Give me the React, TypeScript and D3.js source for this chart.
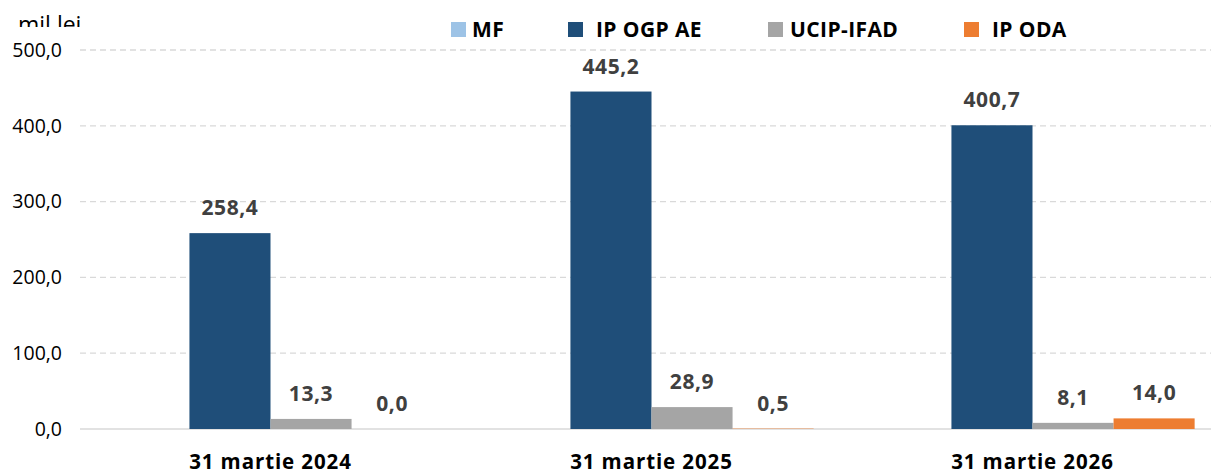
import { useEffect, useRef } from 'react'
import * as d3 from 'd3'

const categories = ['31 martie 2024', '31 martie 2025', '31 martie 2026']
const seriesNames = ['MF', 'IP OGP AE', 'UCIP-IFAD', 'IP ODA']
const seriesColors = ['#9dc3e6', '#1f4e79', '#a5a5a5', '#ed7d31']
const mfValues = [0, 0, 0]
const ogpValues = [258.4, 445.2, 400.7]
const ifadValues = [13.3, 28.9, 8.1]
const odaValues = [0.0, 0.5, 14.0]
const yTicks = [0, 100, 200, 300, 400, 500]

const FONT = "'Open Sans', 'Liberation Sans', sans-serif"

export default function App() {
  const ref = useRef<SVGSVGElement>(null)

  useEffect(() => {
    if (!ref.current) return
    const svg = d3.select(ref.current)
    svg.selectAll('*').remove()

    const width = 1211
    const height = 473
    const margin = { top: 50, right: -12, bottom: 44, left: 80 }
    const innerH = height - margin.top - margin.bottom

    const series = [
      { name: seriesNames[0], values: mfValues, label: false },
      { name: seriesNames[1], values: ogpValues, label: true },
      { name: seriesNames[2], values: ifadValues, label: true },
      { name: seriesNames[3], values: odaValues, label: true }
    ]

    const x0 = d3
      .scaleBand<string>()
      .domain(categories)
      .range([margin.left, width - margin.right])
      .paddingInner(0)
      .paddingOuter(0)

    const x1 = d3
      .scaleBand<string>()
      .domain(seriesNames)
      .range([0, x0.bandwidth()])
      .paddingOuter(0.35)

    const y = d3
      .scaleLinear()
      .domain([0, 500])
      .range([margin.top + innerH, margin.top])

    const fmt = (v: number) => v.toFixed(1).replace('.', ',')

    // gridlines
    const grid = svg.append('g')
    yTicks.forEach(t => {
      grid
        .append('line')
        .attr('x1', margin.left)
        .attr('x2', width)
        .attr('y1', y(t))
        .attr('y2', y(t))
        .attr('stroke', '#d9d9d9')
        .attr('stroke-width', 1.3)
        .attr('stroke-dasharray', t === 0 ? null : '6,4')
    })

    // y axis labels
    const yAxis = svg
      .append('g')
      .attr('transform', `translate(${margin.left - 18},0)`)
      .call(d3.axisLeft(y).tickValues(yTicks).tickSize(0).tickFormat(d => fmt(+d)))
    yAxis.select('.domain').remove()
    yAxis
      .selectAll('text')
      .attr('x', 0)
      .style('font-family', FONT)
      .style('font-size', '19.5px')
      .style('fill', '#000')

    // bars
    series.forEach(s => {
      const g = svg.append('g')
      categories.forEach((c, i) => {
        const v = s.values[i]
        const bx = (x0(c) ?? 0) + (x1(s.name) ?? 0)
        if (v > 0) {
          g.append('rect')
            .attr('x', bx)
            .attr('y', y(v))
            .attr('width', x1.bandwidth())
            .attr('height', y(0) - y(v))
            .attr('fill', seriesColors[seriesNames.indexOf(s.name)])
        }
        if (s.label) {
          g.append('text')
            .attr('x', bx + x1.bandwidth() / 2)
            .attr('y', y(v) - 18)
            .attr('text-anchor', 'middle')
            .style('font-family', FONT)
            .style('font-weight', 'bold')
            .style('font-size', '21px')
            .style('letter-spacing', '0.6px')
            .style('fill', '#404040')
            .text(fmt(v))
        }
      })
    })

    // category labels
    categories.forEach(c => {
      svg
        .append('text')
        .attr('x', (x0(c) ?? 0) + x0.bandwidth() / 2)
        .attr('y', 469)
        .attr('text-anchor', 'middle')
        .style('font-family', FONT)
        .style('font-weight', 'bold')
        .style('font-size', '20.5px')
        .style('letter-spacing', '0.9px')
        .style('fill', '#000')
        .text(c)
    })

    // unit label, clipped at the top grid
    svg
      .append('clipPath')
      .attr('id', 'unitClip')
      .append('rect')
      .attr('x', 0)
      .attr('y', 0)
      .attr('width', 200)
      .attr('height', 27)
    svg
      .append('text')
      .attr('x', 18)
      .attr('y', 33)
      .attr('clip-path', 'url(#unitClip)')
      .style('font-family', FONT)
      .style('font-size', '23px')
      .style('fill', '#000')
      .text('mil lei')

    // legend
    const legendX = [451, 568, 768, 964]
    const legendGap = [21, 28, 22, 28]
    seriesNames.forEach((name, i) => {
      const lg = svg.append('g').attr('transform', `translate(${legendX[i]},22)`)
      lg.append('rect').attr('width', 15).attr('height', 15).attr('fill', seriesColors[i])
      lg.append('text')
        .attr('x', legendGap[i])
        .attr('y', 15)
        .style('font-family', FONT)
        .style('font-weight', 'bold')
        .style('font-size', '21px')
        .style('letter-spacing', '0.4px')
        .style('fill', '#000')
        .text(name)
    })
  }, [])

  return (
    <svg
      ref={ref}
      width={1211}
      height={473}
      style={{ display: 'block', position: 'absolute', top: 0, left: 0, background: '#fff' }}
    />
  )
}
